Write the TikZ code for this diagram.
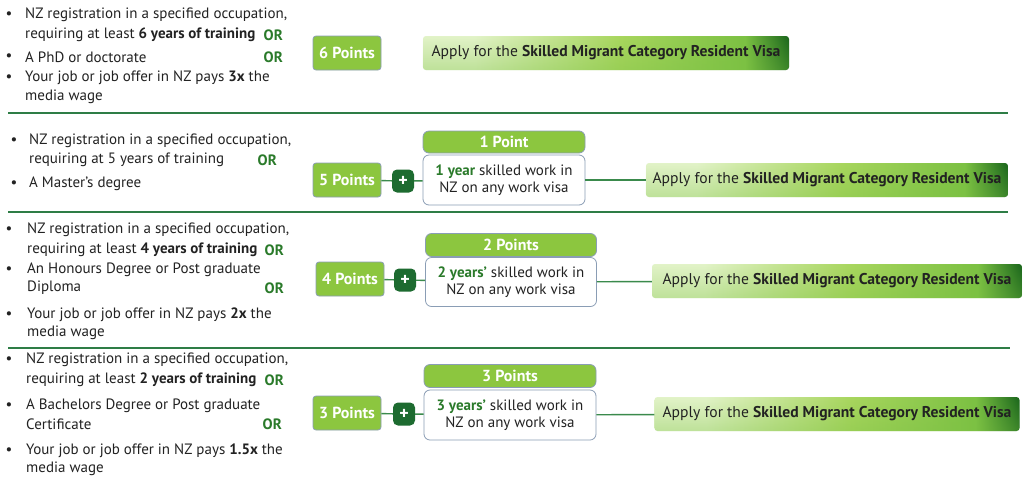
\documentclass[tikz,border=0pt]{standalone}
\usepackage{fontspec}
\setmainfont{PT Sans}
\usetikzlibrary{positioning,fadings}
\definecolor{ptgreen}{HTML}{8CC63F}
\definecolor{ptborder}{HTML}{8A9DB5}
\definecolor{plusgreen}{HTML}{1D6B30}
\definecolor{linegreen}{HTML}{3A8A4C}
\definecolor{sepgreen}{HTML}{2E7D46}
\definecolor{orgreen}{HTML}{2A7A2A}
\definecolor{txt}{HTML}{222222}
\definecolor{vl}{HTML}{E2F3C8}
\definecolor{vm}{HTML}{A8D65E}
\definecolor{vg}{HTML}{7CC143}
\definecolor{vd}{HTML}{1A661C}
\pgfdeclarehorizontalshading{visashade}{100bp}{color(0bp)=(vl); color(25bp)=(vl); color(32bp)=(vl); color(52bp)=(vm); color(69bp)=(vg); color(75bp)=(vd); color(100bp)=(vd)}
\newcommand{\mytxt}{\fontsize{15}{17}\selectfont}
\newcommand{\bigtxt}{\fontsize{16}{18}\selectfont}
\newcommand{\gy}[1]{\textcolor{orgreen}{\textbf{#1}}}
\tikzset{
  line/.style={anchor=west, inner sep=0pt, text=txt, font=\mytxt},
  bul/.style={anchor=center, inner sep=0pt, text=txt, font=\mytxt},
  orlab/.style={anchor=east, inner sep=0pt, text=orgreen, font=\mytxt\bfseries},
  ptbox/.style={draw=ptborder, fill=ptgreen, rounded corners=3pt, minimum width=68pt, minimum height=34pt, inner sep=0pt, text=white, font=\bigtxt\bfseries, line width=0.8pt},
  plusbox/.style={fill=plusgreen, rounded corners=5pt, minimum width=22pt, minimum height=23pt, inner sep=0pt, text=white, font=\fontsize{18}{18}\selectfont\bfseries},
  hdr/.style={draw=ptborder, fill=ptgreen, rounded corners=6pt, minimum height=22pt, inner sep=0pt, text=white, font=\bigtxt\bfseries, line width=0.8pt},
  body/.style={draw=ptborder, fill=white, rounded corners=6pt, minimum height=50pt, inner sep=0pt, text=txt, font=\mytxt, align=center, line width=0.8pt},
  visa/.style={shading=visashade, rounded corners=3pt, minimum height=34pt, inner sep=0pt, text=txt, font=\fontsize{15.6}{18}\selectfont,
    postaction={fill=vg, path fading=north, fill opacity=0.35}},
  conn/.style={draw=linegreen, line width=1.4pt},
  sep/.style={draw=sepgreen, line width=1.8pt}
}
\begin{document}
\begin{tikzpicture}[x=1pt,y=-1pt]
\useasboundingbox (0,0) rectangle (1024,488);
\fill[white] (0,0) rectangle (1024,488);

% ---------- Row 1 ----------
\node[bul] (b11) at (9,15) {•};
\node[line] (t11) at (25,15) {NZ registration in a specified occupation,};
\node[line] (t12) at (25,35) {requiring at least \textbf{6 years of training}};
\node[orlab] (o11) at (283,35) {OR};
\node[bul] (b12) at (9,57) {•};
\node[line] (t13) at (25,57) {A PhD or doctorate};
\node[orlab] (o12) at (283,57) {OR};
\node[bul] (b13) at (9,78) {•};
\node[line] (t14) at (25,78) {Your job or job offer in NZ pays \textbf{3x} the};
\node[line] (t15) at (25,97) {media wage};
\node[ptbox] (p1) at (347,53) {6 Points};
\node[visa, minimum width=366pt] (v1) at (606,53) {Apply for the \textbf{Skilled Migrant Category Resident Visa}};
\coordinate (s1a) at (8,113);
\coordinate (s1b) at (1008,113);
\draw[sep] (s1a) -- (s1b);

% ---------- Row 2 ----------
\node[bul] (b21) at (14,141) {•};
\node[line] (t21) at (29,141) {NZ registration in a specified occupation,};
\node[line] (t22) at (29,160) {requiring at 5 years of training};
\node[orlab] (o21) at (277,160) {OR};
\node[bul] (b22) at (14,184) {•};
\node[line] (t23) at (29,184) {A Master’s degree};
\node[ptbox] (p2) at (347,180) {5 Points};
\node[plusbox] (pl2) at (403,181) {+};
\node[hdr, minimum width=162pt] (h2) at (504,142) {1 Point};
\node[body, minimum width=162pt] (w2) at (504,180) {\gy{1 year} skilled work in\\NZ on any work visa};
\node[visa, minimum width=362pt] (v2) at (827,180) {Apply for the \textbf{Skilled Migrant Category Resident Visa}};
\draw[conn] (p2) -- (pl2);
\draw[conn] (pl2) -- (w2);
\draw[conn] (w2) -- (v2);
\coordinate (s2a) at (8,212);
\coordinate (s2b) at (1008,212);
\draw[sep] (s2a) -- (s2b);

% ---------- Row 3 ----------
\node[bul] (b31) at (9,230) {•};
\node[line] (t31) at (27,230) {NZ registration in a specified occupation,};
\node[line] (t32) at (27,250) {requiring at least \textbf{4 years of training}};
\node[orlab] (o31) at (284,250) {OR};
\node[bul] (b32) at (9,270) {•};
\node[line] (t33) at (27,270) {An Honours Degree or Post graduate};
\node[line] (t34) at (27,288) {Diploma};
\node[orlab] (o32) at (284,288) {OR};
\node[bul] (b33) at (9,315) {•};
\node[line] (t35) at (27,315) {Your job or job offer in NZ pays \textbf{2x} the};
\node[line] (t36) at (27,333) {media wage};
\node[ptbox] (p3) at (350,279) {4 Points};
\node[plusbox] (pl3) at (405,280) {+};
\node[hdr, minimum width=171pt, minimum height=23pt] (h3) at (511,245) {2 Points};
\node[body, minimum width=171pt, minimum height=49pt] (w3) at (511,282) {\gy{2 years’} skilled work in\\NZ on any work visa};
\node[visa, minimum width=370pt] (v3) at (837,281) {Apply for the \textbf{Skilled Migrant Category Resident Visa}};
\draw[conn] (p3) -- (pl3);
\draw[conn] (pl3) -- (w3);
\draw[conn] (w3) -- (v3);
\coordinate (s3a) at (8,348);
\coordinate (s3b) at (1010,348);
\draw[sep] (s3a) -- (s3b);

% ---------- Row 4 ----------
\node[bul] (b41) at (9,360) {•};
\node[line] (t41) at (26,360) {NZ registration in a specified occupation,};
\node[line] (t42) at (26,380) {requiring at least \textbf{2 years of training}};
\node[orlab] (o41) at (284,380) {OR};
\node[bul] (b42) at (9,406) {•};
\node[line] (t43) at (26,406) {A Bachelors Degree or Post graduate};
\node[line] (t44) at (26,424) {Certificate};
\node[orlab] (o42) at (282,424) {OR};
\node[bul] (b43) at (9,451) {•};
\node[line] (t45) at (26,451) {Your job or job offer in NZ pays \textbf{1.5x} the};
\node[line] (t46) at (26,469) {media wage};
\node[ptbox] (p4) at (347,413) {3 Points};
\node[plusbox] (pl4) at (404,414) {+};
\node[hdr, minimum width=172pt, minimum height=23pt] (h4) at (510,376) {3 Points};
\node[body, minimum width=172pt] (w4) at (510,415) {\gy{3 years’} skilled work in\\NZ on any work visa};
\node[visa, minimum width=365pt] (v4) at (837,414) {Apply for the \textbf{Skilled Migrant Category Resident Visa}};
\draw[conn] (p4) -- (pl4);
\draw[conn] (pl4) -- (w4);
\draw[conn] (w4) -- (v4);
\end{tikzpicture}
\end{document}
